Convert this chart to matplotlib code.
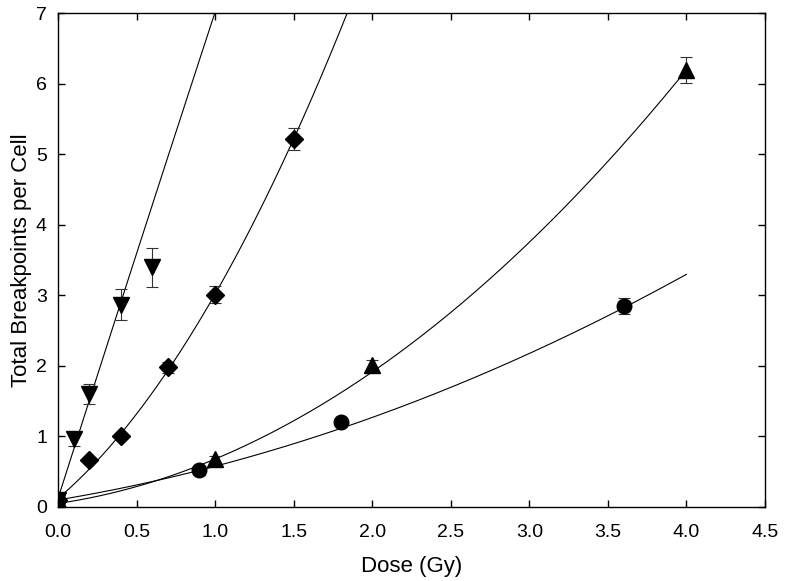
import numpy as np
import matplotlib
matplotlib.use("Agg")
import matplotlib.pyplot as plt

plt.rcParams['font.family'] = ['Liberation Sans', 'DejaVu Sans']

# Inverted triangles
dose_v = [0.0, 0.1, 0.2, 0.4, 0.6]
bp_v = [0.1, 0.97, 1.6, 2.87, 3.4]
err_v = [0.02, 0.10, 0.14, 0.22, 0.28]
# Diamonds
dose_d = [0.0, 0.2, 0.4, 0.7, 1.0, 1.5]
bp_d = [0.1, 0.66, 1.0, 1.98, 3.01, 5.22]
err_d = [0.02, 0.03, 0.04, 0.08, 0.12, 0.15]
# Upright triangles
dose_t = [0.0, 1.0, 2.0, 4.0]
bp_t = [0.1, 0.68, 2.01, 6.2]
err_t = [0.02, 0.05, 0.08, 0.18]
# Circles
dose_c = [0.0, 0.9, 1.8, 3.6]
bp_c = [0.1, 0.52, 1.2, 2.85]
err_c = [0.02, 0.06, 0.04, 0.11]

# Fit coefficients (c, a, b): y = c + a*D + b*D^2
fit_v = [0.12, 7.0, -0.1]
fit_d = [0.12, 1.9, 1.0]
fit_t = [0.05, 0.3275, 0.3025]
fit_c = [0.10, 0.37, 0.1075]
fit_ranges = [(0, 1.05), (0, 1.9), (0, 4.0), (0, 4.0)]

fig = plt.figure(figsize=(7.85, 5.81), dpi=100)
ax = fig.add_axes([0.0739, 0.1274, 0.9006, 0.8494])

for coef, (x0, x1) in zip([fit_v, fit_d, fit_t, fit_c], fit_ranges):
    xs = np.linspace(x0, x1, 300)
    ys = coef[0] + coef[1] * xs + coef[2] * xs ** 2
    ax.plot(xs, ys, color='black', lw=0.8, zorder=2)

series = [
    (dose_v, bp_v, err_v, 'v', 12),
    (dose_d, bp_d, err_d, 'D', 9.5),
    (dose_t, bp_t, err_t, '^', 12),
    (dose_c, bp_c, err_c, 'o', 10.5),
]
for x, y, e, m, ms in series:
    ax.errorbar(x, y, yerr=e, fmt=m, color='black', ms=ms, mec='black',
                ecolor='#333333', elinewidth=0.8, capsize=4, capthick=0.8,
                zorder=3)

ax.set_xlim(0, 4.5)
ax.set_ylim(0, 7)
ax.set_xticks(np.arange(0, 4.51, 0.5))
ax.set_xticklabels([f"{v:.1f}" for v in np.arange(0, 4.51, 0.5)])
ax.set_yticks(range(0, 8))
ax.tick_params(direction='in', length=5, width=1, top=True, right=True,
               labelsize=14)
ax.tick_params(axis='x', pad=12)
ax.tick_params(axis='y', pad=8)
for s in ax.spines.values():
    s.set_linewidth(1.0)
ax.set_xlabel('Dose (Gy)', fontsize=16, labelpad=11)
ax.set_ylabel('Total Breakpoints per Cell', fontsize=16, labelpad=3)

fig.savefig('out.png', dpi=100)
